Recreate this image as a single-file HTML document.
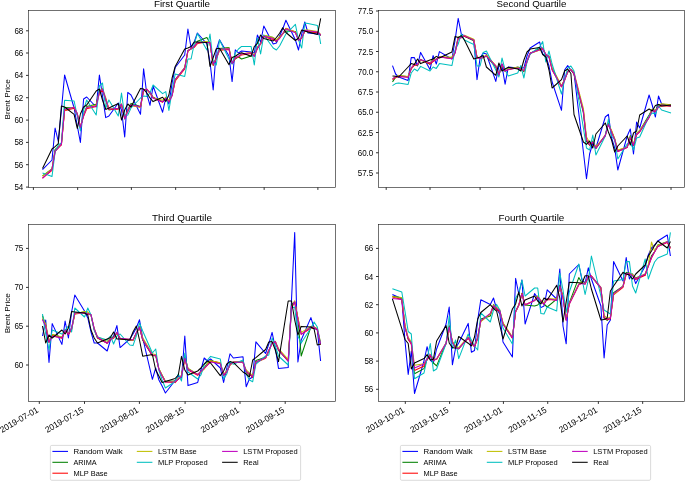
<!DOCTYPE html>
<html><head><meta charset="utf-8"><title>Brent Price Quartiles</title>
<style>html,body{margin:0;padding:0;background:#fff;}body{width:685px;height:481px;overflow:hidden;position:relative;font-family:"Liberation Sans",sans-serif;}</style></head>
<body>
<svg width="685" height="481" viewBox="0 0 685 481" style="position:absolute;left:0;top:0;display:block;will-change:transform" font-family="'Liberation Sans', sans-serif" fill="#000">
<rect width="685" height="481" fill="#fff"/>
<clipPath id="c1"><rect x="28.5" y="10.5" width="307.0" height="176.9"/></clipPath>
<g clip-path="url(#c1)" fill="none" stroke-width="1.05" stroke-linejoin="round" stroke-linecap="butt">
<polyline stroke="#0000ff" points="42.5,169.6 52.0,160.0 55.1,128.0 58.3,141.5 61.4,110.0 64.6,75.0 74.1,108.0 77.3,126.0 80.4,142.4 83.6,99.0 86.7,97.0 96.2,107.0 99.4,75.0 102.5,96.0 105.7,117.6 108.9,116.0 118.3,103.0 121.5,110.0 124.7,137.0 127.8,92.4 131.0,95.0 140.5,114.2 143.6,68.7 146.8,94.0 150.0,105.3 153.1,86.0 162.6,112.2 165.8,98.0 168.9,104.0 172.1,83.0 175.2,67.5 184.7,55.0 187.9,29.0 191.1,48.0 194.2,42.0 197.4,33.0 206.9,44.0 210.0,62.0 213.2,90.0 216.3,50.0 219.5,39.8 229.0,56.0 232.1,81.6 235.3,49.8 238.5,53.0 241.6,51.0 251.1,52.0 254.3,53.0 257.4,35.0 260.6,42.0 263.8,26.0 273.2,44.0 276.4,43.0 279.6,36.0 282.7,29.0 285.9,20.2 295.4,40.0 298.5,50.0 301.7,34.0 304.8,22.0 308.0,33.0 317.5,34.0 320.7,35.0"/>
<polyline stroke="#008000" points="42.5,175.8 52.0,168.8 55.1,149.4 58.3,146.9 61.4,144.6 64.6,107.6 74.1,107.9 77.3,114.9 80.4,127.9 83.6,114.7 86.7,106.6 96.2,104.3 99.4,90.7 102.5,89.3 105.7,99.9 108.9,109.9 118.3,108.3 121.5,104.8 124.7,119.0 127.8,109.7 131.0,103.4 140.5,106.4 143.6,89.4 146.8,90.0 150.0,92.4 153.1,97.2 162.6,101.8 165.8,97.3 168.9,101.4 172.1,94.6 175.2,79.5 184.7,68.0 187.9,50.5 191.1,49.0 194.2,46.3 197.4,41.3 206.9,37.5 210.0,43.2 213.2,65.3 216.3,57.3 219.5,48.4 229.0,47.6 232.1,63.8 235.3,58.7 238.5,57.0 241.6,59.0 251.1,56.0 254.3,55.4 257.4,47.5 260.6,43.0 263.8,35.4 273.2,37.4 276.4,41.6 279.6,37.0 282.7,33.7 285.9,31.0 295.4,31.5 298.5,40.5 301.7,37.9 304.8,31.0 308.0,31.9 317.5,32.2 320.7,35.3"/>
<polyline stroke="#ff0000" points="42.5,178.0 52.0,170.3 55.1,151.1 58.3,147.8 61.4,144.9 64.6,110.8 74.1,108.3 77.3,113.8 80.4,127.0 83.6,116.2 86.7,108.8 96.2,106.4 99.4,93.0 102.5,90.4 105.7,99.0 108.9,109.5 118.3,109.2 121.5,104.4 124.7,118.3 127.8,111.4 131.0,105.5 140.5,107.1 143.6,90.2 146.8,89.3 150.0,93.6 153.1,97.5 162.6,102.3 165.8,98.0 168.9,101.2 172.1,95.6 175.2,80.9 184.7,69.0 187.9,51.2 191.1,48.3 194.2,47.4 197.4,43.6 206.9,42.0 210.0,43.1 213.2,65.2 216.3,58.7 219.5,50.3 229.0,49.4 232.1,63.4 235.3,58.3 238.5,57.1 241.6,54.9 251.1,53.5 254.3,56.2 257.4,48.6 260.6,44.0 263.8,36.7 273.2,39.4 276.4,41.2 279.6,37.7 282.7,33.9 285.9,28.3 295.4,32.1 298.5,39.6 301.7,38.4 304.8,31.2 308.0,31.4 317.5,32.7 320.7,35.0"/>
<polyline stroke="#bfbf00" points="42.5,176.1 52.0,168.9 55.1,151.5 58.3,147.1 61.4,143.1 64.6,110.3 74.1,106.9 77.3,113.6 80.4,126.8 83.6,114.9 86.7,107.6 96.2,105.0 99.4,92.1 102.5,88.3 105.7,97.6 108.9,108.7 118.3,108.3 121.5,103.9 124.7,118.2 127.8,110.4 131.0,104.9 140.5,107.4 143.6,91.0 146.8,89.0 150.0,93.2 153.1,98.0 162.6,100.2 165.8,97.3 168.9,100.7 172.1,95.1 175.2,80.1 184.7,67.3 187.9,51.4 191.1,48.9 194.2,45.8 197.4,42.6 206.9,41.5 210.0,42.4 213.2,63.8 216.3,58.9 219.5,50.3 229.0,48.0 232.1,63.0 235.3,57.3 238.5,56.5 241.6,54.0 251.1,52.2 254.3,55.1 257.4,46.8 260.6,44.1 263.8,35.2 273.2,37.4 276.4,39.8 279.6,37.0 282.7,34.0 285.9,28.5 295.4,32.1 298.5,40.0 301.7,37.9 304.8,29.9 308.0,30.1 317.5,31.6 320.7,34.3"/>
<polyline stroke="#00bfbf" points="42.5,173.0 52.0,176.5 55.1,152.0 58.3,145.0 61.4,143.0 64.6,100.2 74.1,101.0 77.3,116.0 80.4,131.0 83.6,110.0 86.7,100.0 96.2,115.0 99.4,86.0 102.5,83.0 105.7,108.0 108.9,100.0 118.3,116.0 121.5,93.0 124.7,116.0 127.8,115.0 131.0,108.0 140.5,98.0 143.6,96.0 146.8,96.4 150.0,93.0 153.1,85.0 162.6,93.6 165.8,91.6 168.9,110.5 172.1,91.0 175.2,74.0 184.7,76.4 187.9,59.0 191.1,59.0 194.2,44.0 197.4,33.6 206.9,50.0 210.0,34.0 213.2,62.0 216.3,65.0 219.5,40.0 229.0,59.0 232.1,64.0 235.3,53.0 238.5,49.0 241.6,46.4 251.1,46.4 254.3,65.0 257.4,38.0 260.6,54.0 263.8,35.0 273.2,48.0 276.4,50.0 279.6,46.0 282.7,40.0 285.9,34.0 295.4,24.4 298.5,40.0 301.7,48.0 304.8,23.0 308.0,23.6 317.5,25.6 320.7,44.0"/>
<polyline stroke="#bf00bf" points="42.5,178.4 52.0,169.1 55.1,151.5 58.3,147.8 61.4,144.2 64.6,109.6 74.1,107.2 77.3,113.8 80.4,127.3 83.6,115.6 86.7,107.6 96.2,106.1 99.4,92.0 102.5,89.2 105.7,98.9 108.9,109.2 118.3,108.2 121.5,104.2 124.7,118.8 127.8,111.2 131.0,104.8 140.5,106.8 143.6,90.1 146.8,89.2 150.0,92.5 153.1,98.3 162.6,101.8 165.8,98.2 168.9,102.0 172.1,95.7 175.2,79.6 184.7,67.8 187.9,50.7 191.1,48.7 194.2,46.4 197.4,42.6 206.9,42.4 210.0,42.6 213.2,64.3 216.3,58.6 219.5,49.2 229.0,48.7 232.1,63.4 235.3,57.7 238.5,56.2 241.6,54.0 251.1,52.7 254.3,56.4 257.4,47.9 260.6,43.8 263.8,36.2 273.2,38.6 276.4,41.1 279.6,38.5 282.7,33.8 285.9,29.0 295.4,32.8 298.5,40.4 301.7,37.9 304.8,30.4 308.0,30.7 317.5,32.0 320.7,35.0"/>
<polyline stroke="#000000" points="42.5,168.4 52.0,149.0 55.1,146.6 58.3,143.6 61.4,106.0 64.6,107.0 74.1,114.4 77.3,128.4 80.4,114.0 83.6,107.0 86.7,105.0 96.2,91.0 99.4,89.0 102.5,100.0 105.7,109.4 108.9,108.0 118.3,103.6 121.5,120.0 124.7,110.0 127.8,104.0 131.0,107.0 140.5,88.4 143.6,89.0 146.8,93.0 150.0,98.0 153.1,101.6 162.6,97.3 165.8,101.5 168.9,95.0 172.1,78.0 175.2,66.5 184.7,49.0 187.9,48.0 191.1,46.5 194.2,42.0 197.4,42.0 206.9,42.5 210.0,66.5 213.2,57.5 216.3,48.7 219.5,48.3 229.0,64.8 232.1,57.5 235.3,56.2 238.5,54.0 241.6,52.7 251.1,56.2 254.3,46.5 257.4,43.3 260.6,35.0 263.8,38.5 273.2,41.0 276.4,37.5 279.6,33.3 282.7,27.8 285.9,32.5 295.4,40.5 298.5,38.0 301.7,30.0 304.8,31.0 308.0,32.0 317.5,34.4 320.7,18.4"/>
</g>
<rect x="28.5" y="10.5" width="307.0" height="176.9" fill="none" stroke="#1a1a1a" stroke-width="0.62"/>
<path d="M26.00,187.10H28.50M26.00,164.70H28.50M26.00,142.40H28.50M26.00,120.10H28.50M26.00,97.70H28.50M26.00,75.40H28.50M26.00,53.00H28.50M26.00,30.80H28.50M33.40,187.40v2.5M77.65,187.40v2.5M131.39,187.40v2.5M175.65,187.40v2.5M219.90,187.40v2.5M264.15,187.40v2.5M317.89,187.40v2.5" stroke="#1a1a1a" stroke-width="0.9" fill="none"/>
<text x="23.30" y="190.15" font-size="8.60" text-anchor="end" textLength="8.91" lengthAdjust="spacingAndGlyphs">54</text>
<text x="23.30" y="167.75" font-size="8.60" text-anchor="end" textLength="8.91" lengthAdjust="spacingAndGlyphs">56</text>
<text x="23.30" y="145.45" font-size="8.60" text-anchor="end" textLength="8.91" lengthAdjust="spacingAndGlyphs">58</text>
<text x="23.30" y="123.15" font-size="8.60" text-anchor="end" textLength="8.91" lengthAdjust="spacingAndGlyphs">60</text>
<text x="23.30" y="100.75" font-size="8.60" text-anchor="end" textLength="8.91" lengthAdjust="spacingAndGlyphs">62</text>
<text x="23.30" y="78.45" font-size="8.60" text-anchor="end" textLength="8.91" lengthAdjust="spacingAndGlyphs">64</text>
<text x="23.30" y="56.05" font-size="8.60" text-anchor="end" textLength="8.91" lengthAdjust="spacingAndGlyphs">66</text>
<text x="23.30" y="33.85" font-size="8.60" text-anchor="end" textLength="8.91" lengthAdjust="spacingAndGlyphs">68</text>
<text x="182.00" y="6.50" font-size="8.89" text-anchor="middle" textLength="56.07" lengthAdjust="spacingAndGlyphs">First Quartile</text>
<text transform="translate(10.1,99.35) rotate(-90)" font-size="7.75" text-anchor="middle" textLength="40.07" lengthAdjust="spacingAndGlyphs">Brent Price</text>
<clipPath id="c2"><rect x="378.5" y="10.5" width="305.9" height="176.9"/></clipPath>
<g clip-path="url(#c2)" fill="none" stroke-width="1.05" stroke-linejoin="round" stroke-linecap="butt">
<polyline stroke="#0000ff" points="392.5,65.6 395.6,74.0 398.7,77.0 408.1,80.4 411.2,57.6 414.4,57.6 417.5,66.0 420.6,52.4 430.0,69.6 433.1,55.6 436.3,64.0 439.4,51.6 451.9,59.0 455.1,40.0 458.2,18.4 461.3,34.0 464.4,36.0 473.8,40.0 477.0,79.6 480.1,58.0 483.2,53.0 486.4,54.0 495.8,81.4 498.9,66.0 502.0,66.0 505.1,84.2 508.3,67.0 517.7,68.0 520.8,68.0 523.9,68.0 527.0,56.0 530.2,48.0 539.6,42.0 542.7,54.0 545.8,56.0 549.0,66.0 552.1,82.0 561.5,110.3 564.6,70.0 567.7,65.6 570.9,70.0 574.0,73.0 583.4,152.0 586.5,178.7 589.6,154.0 592.8,143.0 595.9,148.0 605.3,117.0 608.4,114.4 611.6,138.0 614.7,148.0 617.8,170.0 627.2,136.0 630.3,129.0 633.5,154.0 636.6,122.0 639.7,128.0 649.1,95.0 652.2,105.0 655.4,117.0 658.5,96.0 661.6,104.0 671.0,105.6"/>
<polyline stroke="#008000" points="392.5,81.9 395.6,77.3 398.7,75.4 408.1,76.8 411.2,68.5 414.4,64.5 417.5,65.4 420.6,59.4 430.0,64.3 433.1,59.3 436.3,59.0 439.4,57.2 451.9,57.7 455.1,52.2 458.2,37.1 461.3,37.3 464.4,36.3 473.8,40.8 477.0,57.5 480.1,57.6 483.2,57.6 486.4,56.2 495.8,67.1 498.9,75.3 502.0,64.4 505.1,71.4 508.3,69.4 517.7,67.0 520.8,68.1 523.9,71.6 527.0,61.3 530.2,53.2 539.6,48.7 542.7,48.1 545.8,55.0 549.0,56.3 552.1,68.4 561.5,86.4 564.6,79.4 567.7,71.8 570.9,69.8 574.0,74.0 583.4,112.9 586.5,141.5 589.6,145.2 592.8,141.1 595.9,148.5 605.3,135.2 608.4,123.1 611.6,131.7 614.7,138.9 617.8,151.1 627.2,146.9 630.3,135.6 633.5,144.6 636.6,133.5 639.7,130.7 649.1,114.9 652.2,109.3 655.4,110.6 658.5,105.0 661.6,104.2 671.0,106.3"/>
<polyline stroke="#ff0000" points="392.5,79.6 395.6,77.5 398.7,76.5 408.1,76.8 411.2,69.0 414.4,65.2 417.5,64.8 420.6,59.7 430.0,64.0 433.1,61.5 436.3,59.3 439.4,57.1 451.9,58.6 455.1,52.8 458.2,38.4 461.3,37.7 464.4,36.3 473.8,39.7 477.0,57.0 480.1,58.2 483.2,57.1 486.4,55.7 495.8,65.9 498.9,74.7 502.0,64.4 505.1,71.2 508.3,69.6 517.7,67.7 520.8,68.9 523.9,71.0 527.0,61.9 530.2,53.1 539.6,49.9 542.7,48.8 545.8,54.9 549.0,57.2 552.1,69.7 561.5,86.9 564.6,80.4 567.7,71.9 570.9,69.3 574.0,74.0 583.4,110.8 586.5,139.9 589.6,145.1 592.8,142.5 595.9,147.9 605.3,135.2 608.4,124.4 611.6,131.3 614.7,139.8 617.8,151.6 627.2,147.6 630.3,138.0 633.5,145.4 636.6,134.9 639.7,131.9 649.1,117.7 652.2,110.0 655.4,111.8 658.5,107.0 661.6,105.7 671.0,105.9"/>
<polyline stroke="#bfbf00" points="392.5,78.7 395.6,76.9 398.7,75.5 408.1,76.5 411.2,68.1 414.4,63.9 417.5,64.8 420.6,60.3 430.0,62.7 433.1,59.5 436.3,59.6 439.4,56.5 451.9,57.2 455.1,51.8 458.2,37.2 461.3,37.5 464.4,35.2 473.8,39.3 477.0,57.2 480.1,57.7 483.2,57.7 486.4,54.9 495.8,65.8 498.9,74.4 502.0,65.0 505.1,69.2 508.3,68.8 517.7,67.4 520.8,68.8 523.9,70.5 527.0,60.6 530.2,53.6 539.6,50.0 542.7,48.1 545.8,54.4 549.0,56.6 552.1,67.4 561.5,85.7 564.6,79.4 567.7,72.3 570.9,69.5 574.0,72.3 583.4,108.6 586.5,137.0 589.6,142.7 592.8,141.9 595.9,146.6 605.3,136.0 608.4,123.7 611.6,130.5 614.7,138.6 617.8,149.9 627.2,147.1 630.3,136.7 633.5,143.8 636.6,133.6 639.7,130.4 649.1,117.0 652.2,109.5 655.4,110.6 658.5,106.3 661.6,103.7 671.0,104.7"/>
<polyline stroke="#00bfbf" points="392.5,85.6 395.6,83.6 398.7,83.0 408.1,84.4 411.2,73.0 414.4,69.0 417.5,71.0 420.6,66.4 430.0,71.0 433.1,67.0 436.3,68.4 439.4,63.6 451.9,65.6 455.1,50.0 458.2,44.0 461.3,34.0 464.4,40.0 473.8,44.4 477.0,66.0 480.1,66.0 483.2,52.4 486.4,51.0 495.8,70.0 498.9,77.0 502.0,58.0 505.1,70.0 508.3,76.0 517.7,73.0 520.8,65.6 523.9,78.0 527.0,62.0 530.2,54.0 539.6,47.0 542.7,41.6 545.8,62.0 549.0,51.0 552.1,64.0 561.5,94.0 564.6,80.0 567.7,68.0 570.9,66.0 574.0,71.0 583.4,128.0 586.5,148.0 589.6,150.0 592.8,135.0 595.9,155.0 605.3,136.0 608.4,119.0 611.6,136.0 614.7,140.0 617.8,159.0 627.2,144.0 630.3,142.0 633.5,150.0 636.6,138.0 639.7,137.0 649.1,116.0 652.2,113.0 655.4,114.0 658.5,106.0 661.6,110.0 671.0,113.0"/>
<polyline stroke="#bf00bf" points="392.5,78.9 395.6,76.7 398.7,76.2 408.1,77.5 411.2,68.3 414.4,64.1 417.5,64.8 420.6,59.8 430.0,63.1 433.1,60.6 436.3,59.6 439.4,57.0 451.9,58.7 455.1,53.1 458.2,37.9 461.3,37.6 464.4,35.6 473.8,40.3 477.0,58.0 480.1,58.4 483.2,57.3 486.4,56.0 495.8,66.1 498.9,74.9 502.0,63.8 505.1,70.9 508.3,69.6 517.7,68.0 520.8,68.9 523.9,70.6 527.0,61.0 530.2,53.2 539.6,49.7 542.7,48.4 545.8,54.2 549.0,57.0 552.1,69.7 561.5,86.4 564.6,80.1 567.7,72.1 570.9,69.7 574.0,73.4 583.4,111.6 586.5,139.8 589.6,144.5 592.8,142.0 595.9,148.2 605.3,135.6 608.4,124.3 611.6,132.2 614.7,139.6 617.8,151.5 627.2,147.2 630.3,137.4 633.5,144.6 636.6,134.5 639.7,131.7 649.1,117.1 652.2,110.1 655.4,111.3 658.5,106.9 661.6,104.9 671.0,106.1"/>
<polyline stroke="#000000" points="392.5,76.0 395.6,76.3 398.7,77.0 408.1,67.0 411.2,63.6 414.4,64.4 417.5,59.0 420.6,63.6 430.0,60.0 433.1,59.0 436.3,56.4 439.4,58.0 451.9,52.0 455.1,36.4 458.2,37.6 461.3,35.6 464.4,40.0 473.8,59.0 477.0,58.0 480.1,57.0 483.2,55.6 486.4,67.0 495.8,75.3 498.9,63.0 502.0,71.0 505.1,69.0 508.3,67.3 517.7,69.0 520.8,71.0 523.9,60.0 527.0,52.0 530.2,49.0 539.6,47.6 542.7,54.5 545.8,57.0 549.0,70.0 552.1,88.0 561.5,79.6 564.6,71.0 567.7,69.0 570.9,73.5 574.0,114.5 583.4,142.0 586.5,144.4 589.6,141.0 592.8,148.0 595.9,134.0 605.3,123.0 608.4,132.0 611.6,140.0 614.7,152.0 617.8,146.0 627.2,136.0 630.3,145.0 633.5,133.0 636.6,131.0 639.7,115.0 649.1,109.0 652.2,111.0 655.4,105.6 658.5,104.4 661.6,106.0 671.0,105.0"/>
</g>
<rect x="378.5" y="10.5" width="305.9" height="176.9" fill="none" stroke="#1a1a1a" stroke-width="0.62"/>
<path d="M376.00,173.00H378.50M376.00,152.75H378.50M376.00,132.50H378.50M376.00,112.25H378.50M376.00,92.00H378.50M376.00,71.75H378.50M376.00,51.50H378.50M376.00,31.25H378.50M376.00,11.00H378.50M386.20,187.40v2.5M430.02,187.40v2.5M480.10,187.40v2.5M523.92,187.40v2.5M577.13,187.40v2.5M620.95,187.40v2.5M671.03,187.40v2.5" stroke="#1a1a1a" stroke-width="0.9" fill="none"/>
<text x="373.30" y="176.05" font-size="8.60" text-anchor="end" textLength="15.59" lengthAdjust="spacingAndGlyphs">57.5</text>
<text x="373.30" y="155.80" font-size="8.60" text-anchor="end" textLength="15.59" lengthAdjust="spacingAndGlyphs">60.0</text>
<text x="373.30" y="135.55" font-size="8.60" text-anchor="end" textLength="15.59" lengthAdjust="spacingAndGlyphs">62.5</text>
<text x="373.30" y="115.30" font-size="8.60" text-anchor="end" textLength="15.59" lengthAdjust="spacingAndGlyphs">65.0</text>
<text x="373.30" y="95.05" font-size="8.60" text-anchor="end" textLength="15.59" lengthAdjust="spacingAndGlyphs">67.5</text>
<text x="373.30" y="74.80" font-size="8.60" text-anchor="end" textLength="15.59" lengthAdjust="spacingAndGlyphs">70.0</text>
<text x="373.30" y="54.55" font-size="8.60" text-anchor="end" textLength="15.59" lengthAdjust="spacingAndGlyphs">72.5</text>
<text x="373.30" y="34.30" font-size="8.60" text-anchor="end" textLength="15.59" lengthAdjust="spacingAndGlyphs">75.0</text>
<text x="373.30" y="14.05" font-size="8.60" text-anchor="end" textLength="15.59" lengthAdjust="spacingAndGlyphs">77.5</text>
<text x="531.45" y="6.50" font-size="8.89" text-anchor="middle" textLength="69.81" lengthAdjust="spacingAndGlyphs">Second Quartile</text>
<clipPath id="c3"><rect x="28.5" y="224.4" width="307.0" height="176.99999999999997"/></clipPath>
<g clip-path="url(#c3)" fill="none" stroke-width="1.05" stroke-linejoin="round" stroke-linecap="butt">
<polyline stroke="#0000ff" points="42.5,336.0 45.7,320.0 49.0,362.4 52.2,323.6 61.9,344.4 65.1,321.0 68.4,338.0 71.6,312.0 74.8,295.0 84.5,311.0 87.8,318.0 91.0,332.0 94.2,343.0 97.5,343.0 107.2,351.0 110.4,340.0 113.6,336.0 116.9,325.6 120.1,347.6 129.8,339.0 133.0,334.0 136.3,328.0 139.5,319.8 142.7,338.0 152.4,379.3 155.7,368.0 158.9,380.0 162.1,386.0 165.4,393.0 175.1,380.5 178.3,376.0 181.5,378.0 184.8,336.0 188.0,385.6 197.7,382.4 200.9,370.0 204.2,358.0 207.4,361.0 210.6,359.0 220.3,368.0 223.6,382.4 226.8,368.0 230.0,353.8 233.3,358.0 243.0,356.7 246.2,386.7 249.4,379.0 252.7,377.0 255.9,341.8 265.6,353.5 268.8,344.0 272.1,332.4 275.3,348.0 278.5,368.4 288.2,367.6 291.5,300.0 294.7,232.6 297.9,362.0 301.2,340.0 310.9,317.6 314.1,328.0 317.3,330.0 320.6,361.0"/>
<polyline stroke="#008000" points="42.5,315.6 45.7,325.1 49.0,342.4 52.2,334.6 61.9,337.6 65.1,329.6 68.4,334.1 71.6,327.9 74.8,313.3 84.5,312.0 87.8,313.3 91.0,315.0 94.2,329.9 97.5,338.0 107.2,343.0 110.4,338.3 113.6,336.9 116.9,332.7 120.1,338.5 129.8,339.9 133.0,340.3 136.3,333.1 139.5,326.8 142.7,340.3 152.4,355.7 155.7,355.4 158.9,369.1 162.1,375.2 165.4,381.3 175.1,381.1 178.3,379.4 181.5,375.5 184.8,356.4 188.0,368.4 197.7,374.6 200.9,371.3 204.2,367.9 207.4,363.2 210.6,360.6 220.3,363.6 223.6,375.5 226.8,371.9 230.0,363.9 233.3,362.1 243.0,361.8 246.2,371.1 249.4,374.8 252.7,376.3 255.9,360.4 265.6,357.2 268.8,350.6 272.1,342.8 275.3,341.8 278.5,350.3 288.2,361.0 291.5,304.8 294.7,301.7 297.9,318.7 301.2,356.0 310.9,326.8 314.1,326.9 317.3,329.5 320.6,344.5"/>
<polyline stroke="#ff0000" points="42.5,318.9 45.7,325.7 49.0,342.1 52.2,335.6 61.9,338.2 65.1,330.7 68.4,334.4 71.6,329.7 74.8,314.0 84.5,312.8 87.8,313.7 91.0,315.0 94.2,328.8 97.5,337.7 107.2,343.2 110.4,339.7 113.6,338.3 116.9,332.9 120.1,339.0 129.8,339.7 133.0,340.2 136.3,333.6 139.5,327.7 142.7,339.3 152.4,355.7 155.7,354.9 158.9,369.6 162.1,375.4 165.4,382.0 175.1,382.6 178.3,378.8 181.5,376.0 184.8,359.4 188.0,370.1 197.7,375.3 200.9,371.7 204.2,368.6 207.4,365.1 210.6,361.3 220.3,362.7 223.6,375.3 226.8,372.1 230.0,364.8 233.3,362.3 243.0,362.6 246.2,372.1 249.4,374.0 252.7,377.5 255.9,362.6 265.6,358.3 268.8,350.5 272.1,343.4 275.3,342.1 278.5,349.8 288.2,360.7 291.5,307.9 294.7,302.1 297.9,318.2 301.2,334.2 310.9,328.2 314.1,327.9 317.3,329.5 320.6,344.5"/>
<polyline stroke="#bfbf00" points="42.5,317.6 45.7,323.9 49.0,340.5 52.2,334.6 61.9,337.1 65.1,330.2 68.4,333.3 71.6,328.8 74.8,314.1 84.5,311.6 87.8,311.8 91.0,315.3 94.2,328.5 97.5,336.8 107.2,341.4 110.4,338.3 113.6,338.3 116.9,332.6 120.1,338.7 129.8,339.3 133.0,340.2 136.3,333.3 139.5,326.2 142.7,337.7 152.4,353.7 155.7,354.7 158.9,368.5 162.1,375.4 165.4,381.5 175.1,381.3 178.3,378.1 181.5,375.5 184.8,358.8 188.0,368.5 197.7,374.4 200.9,372.1 204.2,369.1 207.4,363.7 210.6,360.7 220.3,362.7 223.6,374.2 226.8,370.8 230.0,365.4 233.3,361.8 243.0,362.6 246.2,369.9 249.4,372.9 252.7,375.4 255.9,362.2 265.6,358.0 268.8,351.1 272.1,343.1 275.3,341.3 278.5,348.5 288.2,359.6 291.5,307.3 294.7,300.8 297.9,317.8 301.2,332.4 310.9,326.8 314.1,327.2 317.3,328.2 320.6,342.7"/>
<polyline stroke="#00bfbf" points="42.5,314.0 45.7,334.0 49.0,350.0 52.2,330.0 61.9,334.0 65.1,330.0 68.4,326.0 71.6,332.0 74.8,308.0 84.5,317.0 87.8,308.0 91.0,315.0 94.2,330.0 97.5,337.0 107.2,340.0 110.4,336.0 113.6,344.0 116.9,336.0 120.1,334.0 129.8,345.0 133.0,345.6 136.3,336.0 139.5,323.0 142.7,331.0 152.4,353.0 155.7,349.0 158.9,370.0 162.1,380.0 165.4,388.0 175.1,381.5 178.3,374.0 181.5,381.0 184.8,353.0 188.0,372.0 197.7,379.0 200.9,375.0 204.2,365.0 207.4,360.0 210.6,356.4 220.3,359.0 223.6,379.0 226.8,374.0 230.0,361.5 233.3,364.3 243.0,360.0 246.2,374.0 249.4,380.0 252.7,381.7 255.9,364.0 265.6,356.0 268.8,355.0 272.1,338.0 275.3,346.0 278.5,356.0 288.2,365.0 291.5,308.0 294.7,307.0 297.9,336.0 301.2,343.0 310.9,328.0 314.1,322.0 317.3,327.0 320.6,344.0"/>
<polyline stroke="#bf00bf" points="42.5,319.9 45.7,325.8 49.0,342.2 52.2,336.2 61.9,337.8 65.1,330.4 68.4,334.1 71.6,328.3 74.8,313.1 84.5,312.9 87.8,313.7 91.0,314.7 94.2,328.6 97.5,337.2 107.2,343.2 110.4,339.1 113.6,337.7 116.9,332.3 120.1,338.3 129.8,339.3 133.0,339.9 136.3,332.8 139.5,327.1 142.7,339.5 152.4,355.1 155.7,355.2 158.9,369.2 162.1,376.1 165.4,381.9 175.1,381.8 178.3,379.2 181.5,376.2 184.8,358.4 188.0,369.3 197.7,374.5 200.9,371.3 204.2,368.2 207.4,365.2 210.6,362.1 220.3,363.7 223.6,375.0 226.8,371.9 230.0,364.7 233.3,362.1 243.0,362.3 246.2,371.4 249.4,373.8 252.7,376.6 255.9,362.1 265.6,357.8 268.8,350.8 272.1,343.2 275.3,341.5 278.5,349.6 288.2,361.5 291.5,306.7 294.7,301.8 297.9,319.2 301.2,334.3 310.9,327.1 314.1,327.4 317.3,329.3 320.6,343.9"/>
<polyline stroke="#000000" points="42.5,326.0 45.7,343.0 49.0,335.0 52.2,338.0 61.9,330.0 65.1,334.0 68.4,328.0 71.6,311.6 74.8,312.0 84.5,313.0 87.8,315.0 91.0,330.0 94.2,338.0 97.5,343.0 107.2,339.0 110.4,337.6 113.6,332.0 116.9,339.0 120.1,339.0 129.8,340.0 133.0,332.0 136.3,326.0 139.5,340.0 142.7,356.2 152.4,354.5 155.7,370.0 158.9,376.0 162.1,382.4 165.4,381.6 175.1,378.5 178.3,375.0 181.5,356.4 184.8,370.0 188.0,375.0 197.7,371.0 200.9,368.0 204.2,364.0 207.4,361.0 210.6,363.0 220.3,375.6 223.6,371.0 226.8,364.0 230.0,361.6 233.3,362.4 243.0,372.0 246.2,374.0 249.4,377.0 252.7,360.0 255.9,357.6 265.6,349.5 268.8,342.0 272.1,341.6 275.3,350.0 278.5,361.6 288.2,301.0 291.5,301.0 294.7,320.0 297.9,335.0 301.2,326.4 310.9,327.0 314.1,329.0 317.3,345.0 320.6,344.0"/>
</g>
<rect x="28.5" y="224.4" width="307.0" height="176.99999999999997" fill="none" stroke="#1a1a1a" stroke-width="0.62"/>
<path d="M26.00,365.00H28.50M26.00,326.20H28.50M26.00,287.40H28.50M26.00,248.40H28.50M39.30,401.40v2.5M84.50,401.40v2.5M139.40,401.40v2.5M185.10,401.40v2.5M240.00,401.40v2.5M285.20,401.40v2.5" stroke="#1a1a1a" stroke-width="0.9" fill="none"/>
<text x="23.30" y="368.05" font-size="8.60" text-anchor="end" textLength="8.91" lengthAdjust="spacingAndGlyphs">60</text>
<text x="23.30" y="329.25" font-size="8.60" text-anchor="end" textLength="8.91" lengthAdjust="spacingAndGlyphs">65</text>
<text x="23.30" y="290.45" font-size="8.60" text-anchor="end" textLength="8.91" lengthAdjust="spacingAndGlyphs">70</text>
<text x="23.30" y="251.45" font-size="8.60" text-anchor="end" textLength="8.91" lengthAdjust="spacingAndGlyphs">75</text>
<text transform="translate(39.00,411.60) rotate(-30)" font-size="8.60" text-anchor="end" textLength="42.71" lengthAdjust="spacingAndGlyphs">2019-07-01</text>
<text transform="translate(84.20,411.60) rotate(-30)" font-size="8.60" text-anchor="end" textLength="42.71" lengthAdjust="spacingAndGlyphs">2019-07-15</text>
<text transform="translate(139.10,411.60) rotate(-30)" font-size="8.60" text-anchor="end" textLength="42.71" lengthAdjust="spacingAndGlyphs">2019-08-01</text>
<text transform="translate(184.80,411.60) rotate(-30)" font-size="8.60" text-anchor="end" textLength="42.71" lengthAdjust="spacingAndGlyphs">2019-08-15</text>
<text transform="translate(239.70,411.60) rotate(-30)" font-size="8.60" text-anchor="end" textLength="42.71" lengthAdjust="spacingAndGlyphs">2019-09-01</text>
<text transform="translate(284.90,411.60) rotate(-30)" font-size="8.60" text-anchor="end" textLength="42.71" lengthAdjust="spacingAndGlyphs">2019-09-15</text>
<text x="182.00" y="221.10" font-size="8.89" text-anchor="middle" textLength="59.96" lengthAdjust="spacingAndGlyphs">Third Quartile</text>
<text transform="translate(10.1,313.30) rotate(-90)" font-size="7.75" text-anchor="middle" textLength="40.07" lengthAdjust="spacingAndGlyphs">Brent Price</text>
<clipPath id="c4"><rect x="378.5" y="224.4" width="305.9" height="176.99999999999997"/></clipPath>
<g clip-path="url(#c4)" fill="none" stroke-width="1.05" stroke-linejoin="round" stroke-linecap="butt">
<polyline stroke="#0000ff" points="392.4,294.4 401.8,298.8 405.0,341.0 408.2,374.4 411.3,351.0 414.5,393.5 424.0,361.0 427.1,346.7 430.3,360.0 433.4,363.0 436.6,349.0 446.1,324.0 449.2,307.0 452.4,364.8 455.6,348.0 458.7,343.0 468.2,323.4 471.4,352.3 474.5,350.5 477.7,320.0 480.8,299.8 490.3,304.5 493.5,298.0 496.6,309.0 499.8,314.0 503.0,342.0 512.4,357.0 515.6,278.4 518.8,294.0 521.9,280.0 525.1,324.0 534.6,293.6 537.7,298.0 540.9,307.6 544.0,306.0 547.2,289.8 556.7,299.0 559.8,269.0 563.0,326.0 566.2,343.8 569.3,274.0 578.8,264.5 582.0,280.0 585.1,283.0 588.3,267.8 591.4,279.0 600.9,306.0 604.1,358.0 607.2,325.0 610.4,320.0 613.6,261.6 623.0,281.0 626.2,257.6 629.4,279.0 632.5,274.0 635.7,283.6 645.2,266.0 648.3,255.0 651.5,248.0 654.6,245.0 657.8,241.0 667.3,235.0 670.4,256.0"/>
<polyline stroke="#008000" points="392.4,296.2 401.8,297.7 405.0,327.0 408.2,339.1 411.3,342.8 414.5,373.7 424.0,368.6 427.1,359.2 430.3,355.5 433.4,363.0 436.6,365.9 446.1,342.9 449.2,325.7 452.4,342.2 455.6,347.7 458.7,349.0 468.2,337.1 471.4,342.8 474.5,346.6 477.7,337.4 480.8,319.0 490.3,316.0 493.5,304.6 496.6,308.6 499.8,311.5 503.0,323.4 512.4,337.9 515.6,311.2 518.8,305.0 521.9,293.2 525.1,305.1 534.6,306.0 537.7,305.0 540.9,301.4 544.0,304.0 547.2,307.0 556.7,299.2 559.8,285.1 563.0,296.4 566.2,319.8 569.3,302.9 578.8,277.6 582.0,282.9 585.1,283.9 588.3,276.7 591.4,276.7 600.9,287.9 604.1,318.4 607.2,320.4 610.4,317.8 613.6,292.7 623.0,286.2 626.2,272.4 629.4,273.3 632.5,274.6 635.7,277.8 645.2,275.0 648.3,265.2 651.5,255.9 654.6,251.8 657.8,244.9 667.3,241.7 670.4,247.6"/>
<polyline stroke="#ff0000" points="392.4,297.0 401.8,299.6 405.0,326.6 408.2,339.2 411.3,344.1 414.5,370.5 424.0,366.0 427.1,359.7 430.3,355.9 433.4,360.2 436.6,359.1 446.1,343.9 449.2,327.5 452.4,341.9 455.6,347.5 458.7,348.1 468.2,338.3 471.4,343.3 474.5,346.7 477.7,338.6 480.8,321.2 490.3,314.0 493.5,306.8 496.6,309.0 499.8,311.8 503.0,323.5 512.4,338.2 515.6,312.0 518.8,304.8 521.9,293.5 525.1,304.8 534.6,300.4 537.7,296.5 540.9,300.7 544.0,303.8 547.2,299.5 556.7,299.9 559.8,286.8 563.0,296.8 566.2,320.0 569.3,303.9 578.8,284.9 582.0,283.1 585.1,283.4 588.3,277.0 591.4,275.8 600.9,288.7 604.1,317.5 607.2,319.7 610.4,318.7 613.6,294.9 623.0,287.4 626.2,274.3 629.4,274.1 632.5,275.2 635.7,279.5 645.2,275.2 648.3,266.2 651.5,258.1 654.6,251.7 657.8,246.5 667.3,242.4 670.4,248.5"/>
<polyline stroke="#bfbf00" points="392.4,296.8 401.8,297.5 405.0,324.9 408.2,337.4 411.3,341.7 414.5,365.3 424.0,363.8 427.1,358.2 430.3,354.3 433.4,358.5 436.6,359.5 446.1,342.7 449.2,327.8 452.4,341.3 455.6,345.8 458.7,347.6 468.2,336.9 471.4,342.8 474.5,345.4 477.7,337.6 480.8,321.6 490.3,314.0 493.5,304.8 496.6,307.1 499.8,310.0 503.0,322.7 512.4,336.7 515.6,312.0 518.8,305.6 521.9,293.7 525.1,305.2 534.6,300.6 537.7,295.9 540.9,300.3 544.0,302.7 547.2,298.5 556.7,299.0 559.8,287.5 563.0,296.2 566.2,319.4 569.3,303.4 578.8,284.0 582.0,282.2 585.1,283.6 588.3,277.1 591.4,276.2 600.9,287.4 604.1,315.3 607.2,318.4 610.4,317.0 613.6,294.7 623.0,286.2 626.2,274.2 629.4,272.9 632.5,274.2 635.7,278.4 645.2,273.8 648.3,265.1 651.5,242.0 654.6,251.2 657.8,245.2 667.3,241.7 670.4,247.9"/>
<polyline stroke="#00bfbf" points="392.4,288.8 401.8,292.0 405.0,311.4 408.2,331.5 411.3,334.0 414.5,378.7 424.0,373.0 427.1,358.6 430.3,343.5 433.4,371.0 436.6,369.0 446.1,343.5 449.2,316.0 452.4,348.5 455.6,340.0 458.7,358.6 468.2,334.0 471.4,340.0 474.5,346.0 477.7,350.0 480.8,313.0 490.3,322.0 493.5,310.0 496.6,304.4 499.8,310.0 503.0,328.0 512.4,344.0 515.6,298.0 518.8,293.0 521.9,280.0 525.1,296.0 534.6,288.0 537.7,288.0 540.9,313.6 544.0,314.0 547.2,307.0 556.7,311.0 559.8,273.0 563.0,290.0 566.2,312.5 569.3,292.0 578.8,264.0 582.0,279.0 585.1,294.5 588.3,280.0 591.4,256.0 600.9,296.0 604.1,310.0 607.2,312.0 610.4,314.0 613.6,281.0 623.0,279.6 626.2,261.6 629.4,261.6 632.5,286.0 635.7,293.0 645.2,259.0 648.3,279.0 651.5,270.0 654.6,262.0 657.8,258.0 667.3,254.0 670.4,232.4"/>
<polyline stroke="#bf00bf" points="392.4,298.5 401.8,299.5 405.0,326.9 408.2,338.5 411.3,343.2 414.5,368.0 424.0,364.0 427.1,358.8 430.3,354.8 433.4,360.4 436.6,359.1 446.1,342.9 449.2,327.1 452.4,342.2 455.6,347.9 458.7,348.6 468.2,337.6 471.4,342.8 474.5,346.2 477.7,338.2 480.8,320.7 490.3,313.4 493.5,305.7 496.6,308.3 499.8,310.7 503.0,324.2 512.4,337.6 515.6,311.7 518.8,305.3 521.9,293.8 525.1,305.0 534.6,300.6 537.7,297.2 540.9,300.8 544.0,304.6 547.2,298.5 556.7,300.6 559.8,286.3 563.0,297.6 566.2,320.7 569.3,303.9 578.8,284.4 582.0,283.6 585.1,284.2 588.3,276.4 591.4,276.2 600.9,287.7 604.1,317.6 607.2,319.3 610.4,318.0 613.6,293.6 623.0,286.4 626.2,273.4 629.4,273.7 632.5,275.6 635.7,278.7 645.2,274.2 648.3,266.2 651.5,257.4 654.6,252.0 657.8,246.5 667.3,241.8 670.4,248.1"/>
<polyline stroke="#000000" points="392.4,298.8 401.8,328.7 405.0,339.5 408.2,343.5 411.3,369.0 414.5,363.0 424.0,358.6 427.1,354.6 430.3,360.0 433.4,359.2 436.6,341.0 446.1,325.6 449.2,343.0 452.4,347.6 455.6,348.2 458.7,336.5 468.2,343.2 471.4,346.0 474.5,337.0 477.7,319.0 480.8,312.5 490.3,304.7 493.5,308.5 496.6,311.0 499.8,325.0 503.0,339.0 512.4,309.0 515.6,304.0 518.8,292.0 521.9,306.0 525.1,300.0 534.6,296.0 537.7,301.0 540.9,304.0 544.0,298.0 547.2,300.0 556.7,285.3 559.8,298.0 563.0,322.0 566.2,302.0 569.3,282.2 578.8,282.7 582.0,283.3 585.1,275.8 588.3,275.8 591.4,289.0 600.9,320.0 604.1,319.6 607.2,318.0 610.4,291.0 613.6,286.0 623.0,272.4 626.2,274.0 629.4,275.0 632.5,279.0 635.7,274.0 645.2,265.0 648.3,256.0 651.5,251.0 654.6,245.6 657.8,241.0 667.3,248.0 670.4,241.6"/>
</g>
<rect x="378.5" y="224.4" width="305.9" height="176.99999999999997" fill="none" stroke="#1a1a1a" stroke-width="0.62"/>
<path d="M376.00,389.30H378.50M376.00,361.10H378.50M376.00,332.90H378.50M376.00,304.70H378.50M376.00,276.50H378.50M376.00,248.40H378.50M405.30,401.40v2.5M449.61,401.40v2.5M503.42,401.40v2.5M547.73,401.40v2.5M598.37,401.40v2.5M642.67,401.40v2.5" stroke="#1a1a1a" stroke-width="0.9" fill="none"/>
<text x="373.30" y="392.35" font-size="8.60" text-anchor="end" textLength="8.91" lengthAdjust="spacingAndGlyphs">56</text>
<text x="373.30" y="364.15" font-size="8.60" text-anchor="end" textLength="8.91" lengthAdjust="spacingAndGlyphs">58</text>
<text x="373.30" y="335.95" font-size="8.60" text-anchor="end" textLength="8.91" lengthAdjust="spacingAndGlyphs">60</text>
<text x="373.30" y="307.75" font-size="8.60" text-anchor="end" textLength="8.91" lengthAdjust="spacingAndGlyphs">62</text>
<text x="373.30" y="279.55" font-size="8.60" text-anchor="end" textLength="8.91" lengthAdjust="spacingAndGlyphs">64</text>
<text x="373.30" y="251.45" font-size="8.60" text-anchor="end" textLength="8.91" lengthAdjust="spacingAndGlyphs">66</text>
<text transform="translate(405.00,411.60) rotate(-30)" font-size="8.60" text-anchor="end" textLength="42.71" lengthAdjust="spacingAndGlyphs">2019-10-01</text>
<text transform="translate(449.31,411.60) rotate(-30)" font-size="8.60" text-anchor="end" textLength="42.71" lengthAdjust="spacingAndGlyphs">2019-10-15</text>
<text transform="translate(503.12,411.60) rotate(-30)" font-size="8.60" text-anchor="end" textLength="42.71" lengthAdjust="spacingAndGlyphs">2019-11-01</text>
<text transform="translate(547.43,411.60) rotate(-30)" font-size="8.60" text-anchor="end" textLength="42.71" lengthAdjust="spacingAndGlyphs">2019-11-15</text>
<text transform="translate(598.07,411.60) rotate(-30)" font-size="8.60" text-anchor="end" textLength="42.71" lengthAdjust="spacingAndGlyphs">2019-12-01</text>
<text transform="translate(642.38,411.60) rotate(-30)" font-size="8.60" text-anchor="end" textLength="42.71" lengthAdjust="spacingAndGlyphs">2019-12-15</text>
<text x="531.45" y="221.10" font-size="8.89" text-anchor="middle" textLength="65.82" lengthAdjust="spacingAndGlyphs">Fourth Quartile</text>
<rect x="50.4" y="445.4" width="250.2" height="34.9" rx="1.4" fill="#fff" stroke="#cccccc" stroke-width="0.7"/>
<path d="M52.40,451.40h15.6" stroke="#0000ff" stroke-width="1.05" fill="none"/>
<text x="73.50" y="454.35" font-size="7.70" text-anchor="start" textLength="49.13" lengthAdjust="spacingAndGlyphs">Random Walk</text>
<path d="M52.40,462.30h15.6" stroke="#008000" stroke-width="1.05" fill="none"/>
<text x="73.50" y="465.25" font-size="7.70" text-anchor="start" textLength="23.09" lengthAdjust="spacingAndGlyphs">ARIMA</text>
<path d="M52.40,473.20h15.6" stroke="#ff0000" stroke-width="1.05" fill="none"/>
<text x="73.50" y="476.15" font-size="7.70" text-anchor="start" textLength="34.24" lengthAdjust="spacingAndGlyphs">MLP Base</text>
<path d="M136.80,451.40h15.6" stroke="#bfbf00" stroke-width="1.05" fill="none"/>
<text x="157.90" y="454.35" font-size="7.70" text-anchor="start" textLength="38.85" lengthAdjust="spacingAndGlyphs">LSTM Base</text>
<path d="M136.80,462.30h15.6" stroke="#00bfbf" stroke-width="1.05" fill="none"/>
<text x="157.90" y="465.25" font-size="7.70" text-anchor="start" textLength="49.79" lengthAdjust="spacingAndGlyphs">MLP Proposed</text>
<path d="M222.10,451.40h15.6" stroke="#bf00bf" stroke-width="1.05" fill="none"/>
<text x="243.20" y="454.35" font-size="7.70" text-anchor="start" textLength="54.40" lengthAdjust="spacingAndGlyphs">LSTM Proposed</text>
<path d="M222.10,462.30h15.6" stroke="#000000" stroke-width="1.05" fill="none"/>
<text x="243.20" y="465.25" font-size="7.70" text-anchor="start" textLength="15.46" lengthAdjust="spacingAndGlyphs">Real</text>
<rect x="400.4" y="445.4" width="250.2" height="34.9" rx="1.4" fill="#fff" stroke="#cccccc" stroke-width="0.7"/>
<path d="M402.40,451.40h15.6" stroke="#0000ff" stroke-width="1.05" fill="none"/>
<text x="423.50" y="454.35" font-size="7.70" text-anchor="start" textLength="49.13" lengthAdjust="spacingAndGlyphs">Random Walk</text>
<path d="M402.40,462.30h15.6" stroke="#008000" stroke-width="1.05" fill="none"/>
<text x="423.50" y="465.25" font-size="7.70" text-anchor="start" textLength="23.09" lengthAdjust="spacingAndGlyphs">ARIMA</text>
<path d="M402.40,473.20h15.6" stroke="#ff0000" stroke-width="1.05" fill="none"/>
<text x="423.50" y="476.15" font-size="7.70" text-anchor="start" textLength="34.24" lengthAdjust="spacingAndGlyphs">MLP Base</text>
<path d="M486.80,451.40h15.6" stroke="#bfbf00" stroke-width="1.05" fill="none"/>
<text x="507.90" y="454.35" font-size="7.70" text-anchor="start" textLength="38.85" lengthAdjust="spacingAndGlyphs">LSTM Base</text>
<path d="M486.80,462.30h15.6" stroke="#00bfbf" stroke-width="1.05" fill="none"/>
<text x="507.90" y="465.25" font-size="7.70" text-anchor="start" textLength="49.79" lengthAdjust="spacingAndGlyphs">MLP Proposed</text>
<path d="M572.10,451.40h15.6" stroke="#bf00bf" stroke-width="1.05" fill="none"/>
<text x="593.20" y="454.35" font-size="7.70" text-anchor="start" textLength="54.40" lengthAdjust="spacingAndGlyphs">LSTM Proposed</text>
<path d="M572.10,462.30h15.6" stroke="#000000" stroke-width="1.05" fill="none"/>
<text x="593.20" y="465.25" font-size="7.70" text-anchor="start" textLength="15.46" lengthAdjust="spacingAndGlyphs">Real</text>
</svg>
</body></html>
